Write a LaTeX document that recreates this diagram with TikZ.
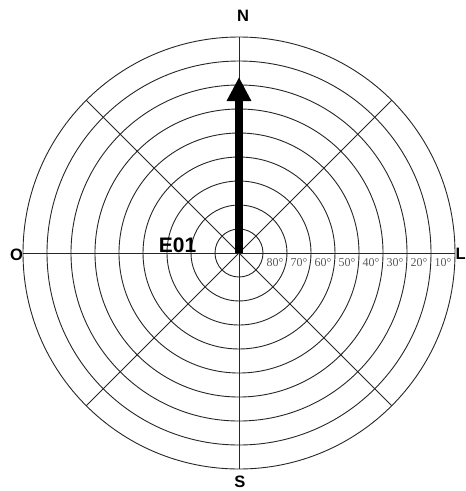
\documentclass[tikz,border=0pt]{standalone}
\usepackage{fontspec}
\setmainfont{Liberation Serif}
\newfontfamily\arialfont{Liberation Sans}
\usetikzlibrary{arrows.meta,positioning,calc}

\begin{document}
\begin{tikzpicture}[x=1pt, y=-1pt,
    anillo/.style={draw=black!85, line width=0.9pt},
    eje/.style={draw=black!85, line width=0.9pt},
    card/.style={font=\arialfont\bfseries\fontsize{16.5}{16.5}\selectfont, inner sep=0pt},
    grado/.style={font=\fontsize{12}{12}\selectfont, text=black!65, inner sep=0pt},
    rumbo/.style={line width=8pt, -{Triangle[width=23pt,length=24pt]}}
  ]
    \useasboundingbox (0,0) rectangle (466,491);
    \coordinate (c) at (239,253);
    % anillos
    \foreach \r in {1,...,9}
      \draw[anillo] (c) circle[radius={\r*24pt}];
    % ejes y diagonales
    \foreach \a in {0,45,90,135}
      \draw[eje] ($(c)+(\a:216pt)$) -- ($(c)+(\a+180:216pt)$);
    % grados
    \foreach \k [evaluate=\k as \v using int(90-10*\k)] in {1,...,8}
      \node[grado] (g\k) at ($(c)+(24*\k+12,10)$) {\v°};
    % puntos cardinales
    \node[card] (n) at (243,16) {N};
    \node[card] (s) at (240,481.5) {S};
    \node[card] (o) at (16.5,255) {O};
    \node[card, anchor=east] (l) at (465.8,254) {L};
    % estacion
    \node[card, font=\arialfont\bfseries\fontsize{21}{21}\selectfont, anchor=base] (e) at (177.5,252) {E01};
    \coordinate (punta) at (239,77);
    \draw[rumbo] (c) -- (punta);
  \end{tikzpicture}
\end{document}
